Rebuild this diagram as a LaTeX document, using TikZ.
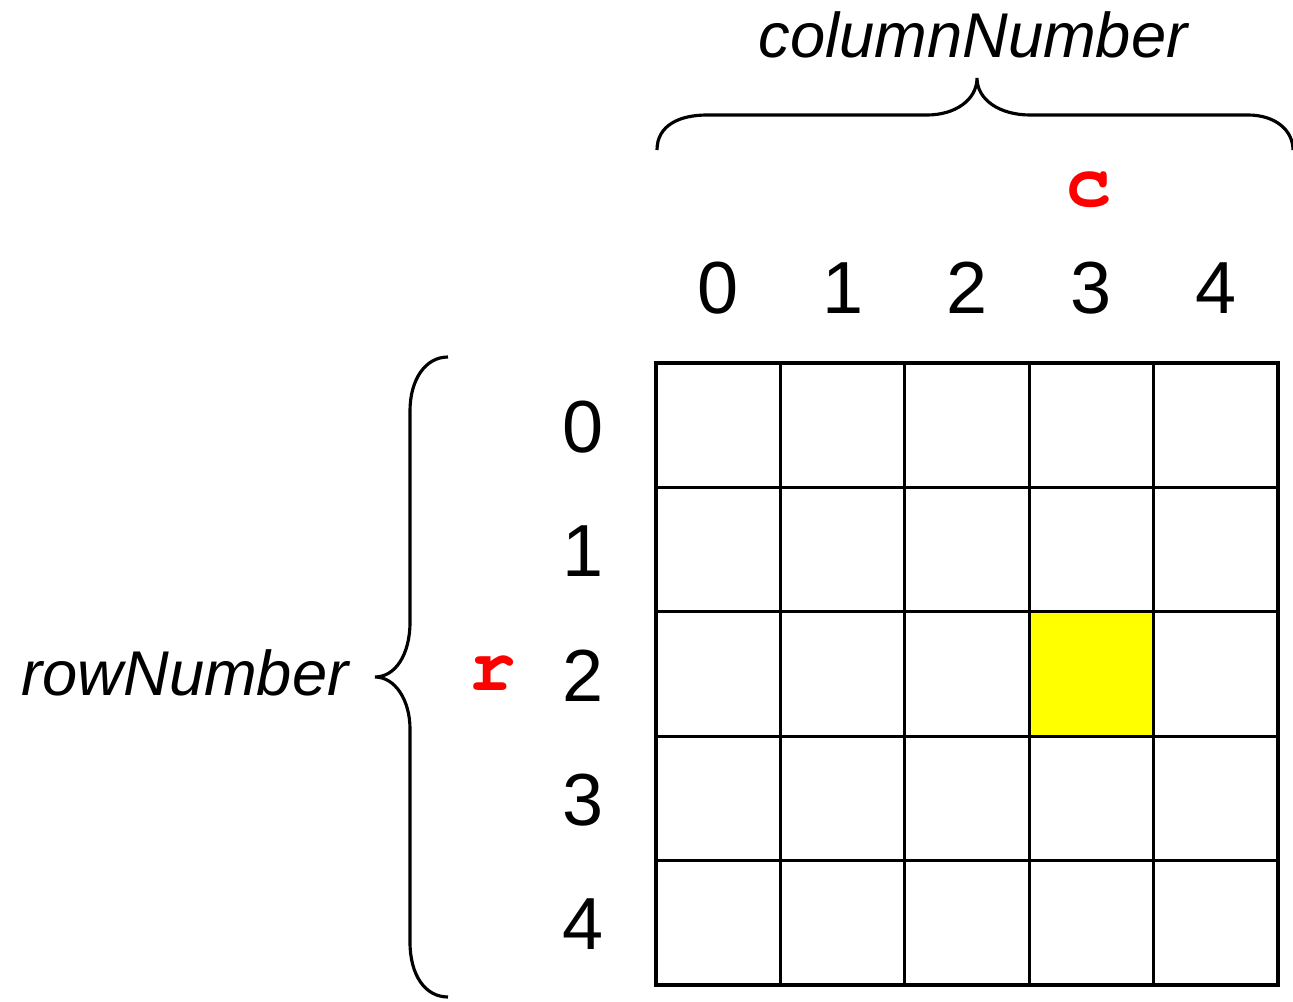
\documentclass[tikz,border=0pt]{standalone}
\usepackage{fontspec}
\setmainfont{Liberation Sans}
\newfontfamily\codefont{TeX Gyre Cursor}
\definecolor{cellyellow}{RGB}{255,255,0}
\tikzset{
	idxlabel/.style={font=\fontsize{21}{25}\selectfont},
	axislabel/.style={font=\fontsize{18}{22}\selectfont\itshape},
	varlabel/.style={font=\fontsize{22}{26}\selectfont\codefont\bfseries, text=red},
	gridline/.style={line width=0.9pt, line cap=rect},
	bracket/.style={line width=0.9pt},
}
\begin{document}
\begin{tikzpicture}
	\useasboundingbox (0, 0) rectangle (12.93, 10.01);
	
	% Selected cell
	\fill[cellyellow] (10.292, 3.892) rectangle (11.536, 2.648);
	
	% Grid
	\foreach \i in {0,...,5} {
		\draw[gridline] (6.56 + 1.244*\i, 6.38) -- (6.56 + 1.244*\i, 0.16);
		\draw[gridline] (6.56, 6.38 - 1.244*\i) -- (12.78, 6.38 - 1.244*\i);
	}
	
	% Indices
	\foreach \k in {0,...,4} {
		\node[idxlabel] (col\k) at (7.182 + 1.244*\k, 7.13) {\k};
		\node[idxlabel] (row\k) at (5.83, 5.74 - 1.244*\k) {\k};
	}
	
	% Variables
	\node[varlabel] (c) at (10.89, 8.11) {c};
	\node[varlabel] (r) at (4.93, 3.28) {r};
	
	% Braces
	\draw[bracket] (6.57, 8.51) .. controls (6.57, 8.76) and (6.80, 8.86) .. (7.07, 8.86)
		-- (9.27, 8.86) .. controls (9.55, 8.86) and (9.77, 9.01) .. (9.77, 9.23)
		.. controls (9.77, 9.01) and (10.00, 8.86) .. (10.30, 8.86)
		-- (12.48, 8.86) .. controls (12.75, 8.86) and (12.93, 8.71) .. (12.93, 8.51);
	\draw[bracket] (4.48, 6.44) .. controls (4.25, 6.44) and (4.10, 6.21) .. (4.10, 5.90)
		-- (4.10, 3.79) .. controls (4.10, 3.46) and (3.95, 3.24) .. (3.75, 3.24)
		.. controls (3.95, 3.24) and (4.10, 3.01) .. (4.10, 2.72)
		-- (4.10, 0.59) .. controls (4.10, 0.26) and (4.25, 0.04) .. (4.48, 0.04);
	
	% Names
	\node[axislabel] (colname) at (9.73, 9.66) {columnNumber};
	\node[axislabel] (rowname) at (1.85, 3.28) {rowNumber};
\end{tikzpicture}
\end{document}
